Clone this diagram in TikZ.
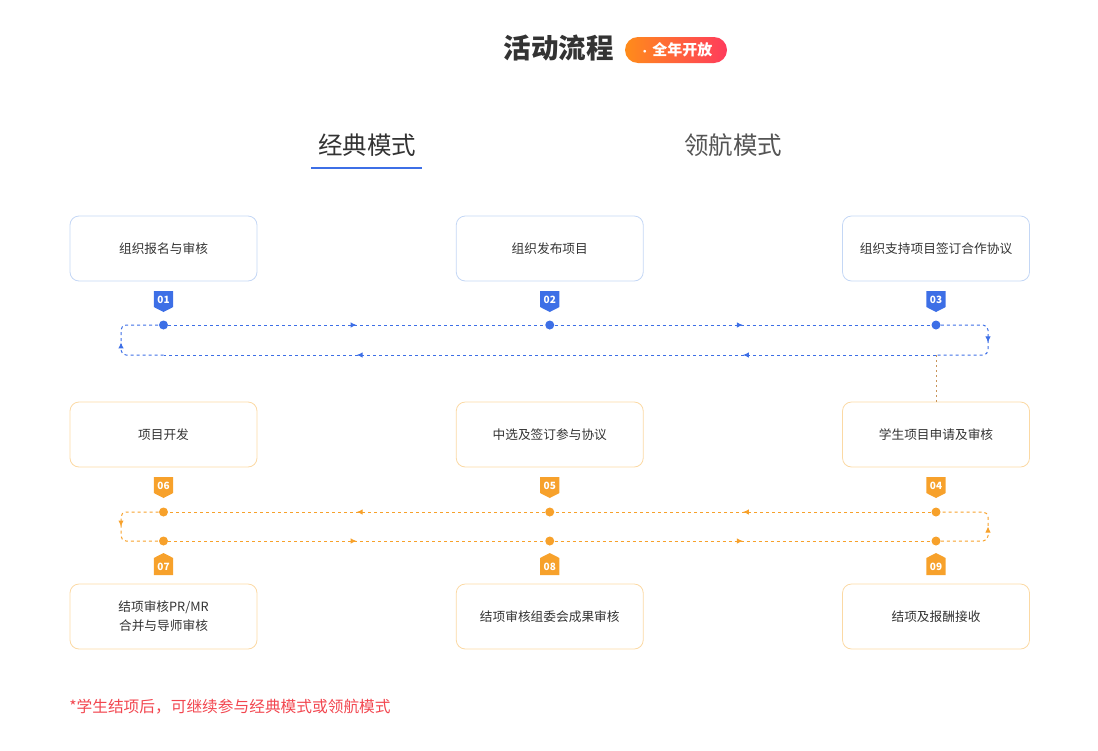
\documentclass[tikz,border=0pt]{standalone}
\usepackage{fontspec}
\setmainfont{Noto Sans CJK SC}
\usetikzlibrary{arrows.meta, decorations.markings}

\begin{document}
\begin{tikzpicture}[x=1pt, y=-1pt, >={Latex[length=6pt, width=5.5pt]}, node distance=386.25pt, semithick]
%====Colori===============================================================
	\definecolor{blu}{HTML}{3D6FE6}
	\definecolor{blubordo}{HTML}{C4D7F5}
	\definecolor{arancio}{HTML}{F7A12B}
	\definecolor{aranciobordo}{HTML}{FBD9A4}
	\definecolor{testo}{HTML}{333333}
	\definecolor{grigio}{HTML}{555555}
	\definecolor{rosso}{HTML}{F2464F}
	\definecolor{tagsx}{HTML}{FF8C1A}
	\definecolor{tagdx}{HTML}{FF3B5C}
%====Stili===============================================================
	\tikzstyle{fase}=[rectangle, rounded corners=9pt, line width=0.8pt, minimum width=187pt, minimum height=65pt, text=testo, align=center, font=\fontsize{12.7}{19}\selectfont]
	\tikzstyle{fase blu}=[fase, draw=blubordo]
	\tikzstyle{fase arancio}=[fase, draw=aranciobordo]
	\tikzstyle{punto}=[circle, inner sep=0pt, minimum size=9pt]
	\tikzstyle{anello}=[line width=1pt, dash pattern=on 3pt off 3pt, rounded corners=5pt]
	\tikzstyle{mezzo}=[postaction={decorate, decoration={markings, mark=at position 0.5 with {\arrow{>}}}}]
	\tikzstyle{numero}=[text=white, inner sep=0pt, font=\fontsize{10}{10}\selectfont\bfseries]
	\tikzset{
		pics/targa giu/.style={code={
			\path[pic actions] (-9.7,-8.5) -- (9.7,-8.5) -- (9.7,7.5) -- (0,12.5) -- (-9.7,7.5) -- cycle;
			\node[numero] (-n) at (0,0) {#1};}},
		pics/targa su/.style={code={
			\path[pic actions] (-9.7,8.5) -- (9.7,8.5) -- (9.7,-8.5) -- (0,-13.5) -- (-9.7,-8.5) -- cycle;
			\node[numero] (-n) at (0,0.5) {#1};}}
	}
	\useasboundingbox (0,0) rectangle (1098,750);
%====Titolo e schede===============================================================
	\node[text=testo, font=\fontsize{27.5}{27.5}\selectfont\bfseries] (titolo) at (558.5,48) {活动流程};
	\node[rectangle, rounded corners=13pt, left color=tagsx, right color=tagdx, minimum width=102pt, minimum height=26pt, text=white, font=\fontsize{15}{15}\selectfont\bfseries] (tag) at (676,50) {{\fontsize{10}{10}\selectfont ·}\,全年开放};
	\node[text=testo, font=\fontsize{24.5}{24.5}\selectfont] (scheda1) at (367,145) {经典模式};
	\node[text=grigio, font=\fontsize{24.5}{24.5}\selectfont] (scheda2) at (733,145) {领航模式};
	\draw[blu, line width=2pt] (311,167.5) -- (422,167.5);
%====Fasi===============================================================
	\node[fase blu]		(A) at (163.5,248.5)	{组织报名与审核};
	\node[fase blu]		(B) [right of=A]		{组织发布项目};
	\node[fase blu]		(C) [right of=B]		{组织支持项目签订合作协议};
	\node[fase arancio]	(D) [below of=C, node distance=186pt]	{学生项目申请及审核};
	\node[fase arancio]	(E) [left of=D]		{中选及签订参与协议};
	\node[fase arancio]	(F) [left of=E]		{项目开发};
	\node[fase arancio]	(G) [below of=F, node distance=182pt]	{结项审核PR/MR\\合并与导师审核};
	\node[fase arancio]	(H) [right of=G]		{结项审核组委会成果审核};
	\node[fase arancio]	(I) [right of=H]		{结项及报酬接收};
%====Targhe numerate===============================================================
	\pic[fill=blu]		(t1) at (163.5,299.5) {targa giu=01};
	\pic[fill=blu]		(t2) at (549.75,299.5) {targa giu=02};
	\pic[fill=blu]		(t3) at (936,299.5) {targa giu=03};
	\pic[fill=arancio]	(t4) at (936,485.5) {targa giu=04};
	\pic[fill=arancio]	(t5) at (549.75,485.5) {targa giu=05};
	\pic[fill=arancio]	(t6) at (163.5,485.5) {targa giu=06};
	\pic[fill=arancio]	(t7) at (163.5,566.5) {targa su=07};
	\pic[fill=arancio]	(t8) at (549.75,566.5) {targa su=08};
	\pic[fill=arancio]	(t9) at (936,566.5) {targa su=09};
%====Punti e angoli===============================================================
	\node[punto, fill=blu]		(p1) at (163.5,325) {};
	\node[punto, fill=blu]		(p2) at (549.75,325) {};
	\node[punto, fill=blu]		(p3) at (936,325) {};
	\node[punto, fill=arancio]	(p4) at (936,512) {};
	\node[punto, fill=arancio]	(p5) at (549.75,512) {};
	\node[punto, fill=arancio]	(p6) at (163.5,512) {};
	\node[punto, fill=arancio]	(p7) at (163.5,541) {};
	\node[punto, fill=arancio]	(p8) at (549.75,541) {};
	\node[punto, fill=arancio]	(p9) at (936,541) {};
	\coordinate (ba) at (988,325);	\coordinate (bb) at (988,355);
	\coordinate (bc) at (121,355);	\coordinate (bd) at (121,325);
	\coordinate (q3) at (936,355);	\coordinate (q2) at (549.75,355);	\coordinate (q1) at (163.5,355);
	\coordinate (oa) at (121,512);	\coordinate (ob) at (121,541);
	\coordinate (oc) at (988,541);	\coordinate (od) at (988,512);
%====Collegamenti===============================================================
	%from     stile                      to
	\draw[anello, blu, mezzo]	(p1) -- (p2);
	\draw[anello, blu, mezzo]	(p2) -- (p3);
	\draw[anello, blu, mezzo]	(p3) -- (ba) -- (bb) -- (q3);
	\draw[anello, blu, mezzo]	(q3) -- (q2);
	\draw[anello, blu, mezzo]	(q2) -- (q1);
	\draw[anello, blu, mezzo]	(q1) -- (bc) -- (bd) -- (p1);
	\draw[arancio!75!blu, line width=1pt, dash pattern=on 2pt off 3pt]	(q3) -- (D);
	\draw[anello, arancio, mezzo]	(p4) -- (p5);
	\draw[anello, arancio, mezzo]	(p5) -- (p6);
	\draw[anello, arancio, mezzo]	(p6) -- (oa) -- (ob) -- (p7);
	\draw[anello, arancio, mezzo]	(p7) -- (p8);
	\draw[anello, arancio, mezzo]	(p8) -- (p9);
	\draw[anello, arancio, mezzo]	(p9) -- (oc) -- (od) -- (p4);
%====Nota===============================================================
	\node[anchor=west, text=rosso, inner sep=0pt, font=\fontsize{15.7}{15.7}\selectfont] (nota) at (69,707) {*学生结项后，可继续参与经典模式或领航模式};
\end{tikzpicture}
\end{document}
